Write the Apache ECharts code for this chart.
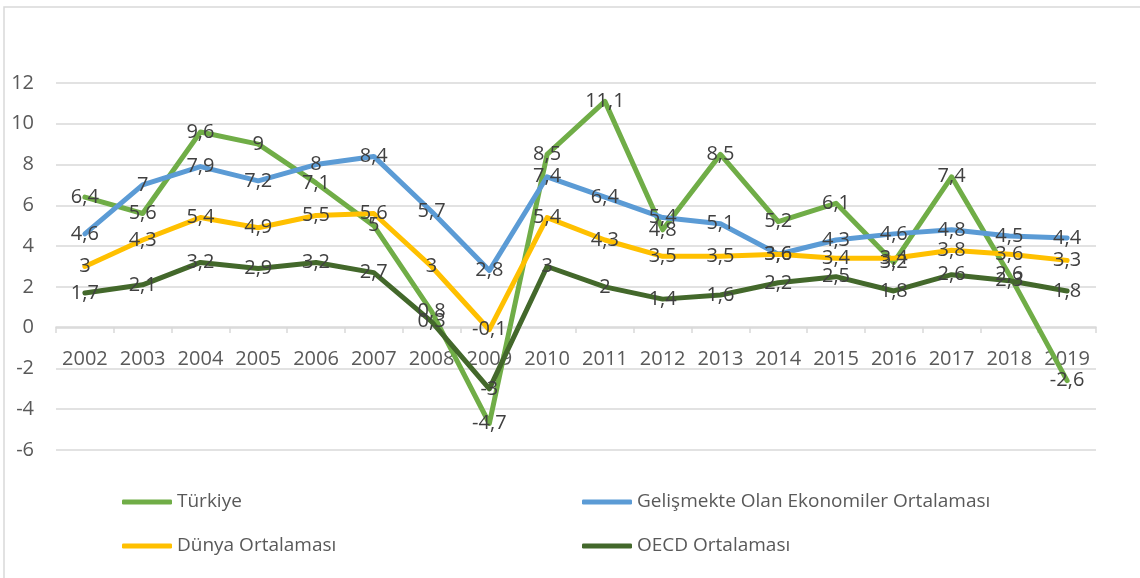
<!DOCTYPE html>
<html>
<head>
<meta charset="utf-8">
<script src="https://cdn.jsdelivr.net/npm/echarts@6/dist/echarts.min.js"></script>
<style>
  html, body { margin: 0; padding: 0; background: #fff; }
  #main { width: 1140px; height: 578px; }
</style>
</head>
<body>
<div id="main"></div>
<script>
var years = ['2002','2003','2004','2005','2006','2007','2008','2009','2010','2011','2012','2013','2014','2015','2016','2017','2018','2019'];
var turkiye = [6.4, 5.6, 9.6, 9, 7.1, 5, 0.8, -4.7, 8.5, 11.1, 4.8, 8.5, 5.2, 6.1, 3.2, 7.4, 2.6, -2.6];
var gelismekte = [4.6, 7, 7.9, 7.2, 8, 8.4, 5.7, 2.8, 7.4, 6.4, 5.4, 5.1, 3.6, 4.3, 4.6, 4.8, 4.5, 4.4];
var dunya = [3, 4.3, 5.4, 4.9, 5.5, 5.6, 3, -0.1, 5.4, 4.3, 3.5, 3.5, 3.6, 3.4, 3.4, 3.8, 3.6, 3.3];
var oecd = [1.7, 2.1, 3.2, 2.9, 3.2, 2.7, 0.3, -3, 3, 2, 1.4, 1.6, 2.2, 2.5, 1.8, 2.6, 2.3, 1.8];

var names = ['Türkiye', 'Gelişmekte Olan Ekonomiler Ortalaması', 'Dünya Ortalaması', 'OECD Ortalaması'];
var colors = ['#70AD47', '#5B9BD5', '#FFC000', '#43682B'];
var FONT = 'Open Sans';

var chartDom = document.getElementById('main');
var myChart = echarts.init(chartDom);

function makeSeries(i, data) {
  return {
    name: names[i],
    type: 'line',
    data: data,
    color: colors[i],
    symbol: 'circle',
    symbolSize: 0,
    showSymbol: true,
    itemStyle: {color: colors[i]},
    lineStyle: {width: 5, color: colors[i], cap: 'round', join: 'round'},
    label: {
      show: true, position: 'inside', offset: [0, 2], fontFamily: FONT, fontSize: 20, color: '#404040',
      formatter: function (p) { return String(p.value).replace('.', ','); }
    },
    labelLayout: {hideOverlap: false},
    emphasis: {disabled: true},
    animation: false
  };
}

var legendText = {fontFamily: FONT, fontSize: 19, color: '#595959', lineHeight: 22};

var option = {
  backgroundColor: '#fff',
  graphic: [
    {type: 'rect', shape: {x: 4, y: 7, width: 1200, height: 700}, style: {fill: 'none', stroke: '#d9d9d9', lineWidth: 1.5}, silent: true}
  ],
  grid: {left: 56, right: 44, top: 83, bottom: 128},
  legend: [
    {
      data: [names[0], names[2]], orient: 'vertical', left: 117, top: 486, itemGap: 22,
      itemWidth: 50, itemHeight: 5, icon: 'roundRect', textStyle: legendText
    },
    {
      data: [names[1], names[3]], orient: 'vertical', left: 577, top: 486, itemGap: 22,
      itemWidth: 50, itemHeight: 5, icon: 'roundRect', textStyle: legendText
    }
  ],
  xAxis: {
    type: 'category',
    data: years,
    boundaryGap: true,
    offset: -123,
    axisLine: {onZero: false, lineStyle: {color: '#d9d9d9', width: 1.5}},
    axisTick: {show: true, length: 6, interval: 0, lineStyle: {color: '#d9d9d9', width: 1.5}},
    axisLabel: {interval: 0, fontFamily: FONT, fontSize: 20, color: '#595959', margin: 22}
  },
  yAxis: {
    type: 'value',
    min: -6, max: 12, interval: 2,
    axisLine: {show: false},
    axisTick: {show: false},
    splitLine: {lineStyle: {color: '#d9d9d9', width: 1.5}},
    axisLabel: {fontFamily: FONT, fontSize: 20, color: '#595959', margin: 22}
  },
  series: [
    makeSeries(0, turkiye),
    makeSeries(1, gelismekte),
    makeSeries(2, dunya),
    makeSeries(3, oecd)
  ]
};
option && myChart.setOption(option);
</script>
</body>
</html>
